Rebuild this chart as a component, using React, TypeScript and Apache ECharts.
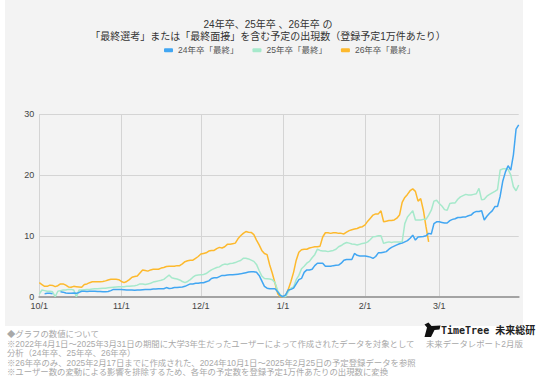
import React, { useEffect, useRef } from "react";
import * as echarts from "echarts";

const MONTHS = [10, 11, 12, 1, 2, 3];
const DAYS_IN_MONTH = [31, 30, 31, 31, 28, 31];
const categories: string[] = [];
MONTHS.forEach((m, i) => {
  for (let d = 1; d <= DAYS_IN_MONTH[i]; d++) categories.push(`${m}/${d}`);
});

const seriesNames = ["24年卒「最終」", "25年卒「最終」", "26年卒「最終」"];
const seriesColors = ["#41a6f2", "#a6e9cb", "#fdb92d"];
const yTicks = [0, 10, 20, 30];

const s24: (number | null)[] = [
  // Oct
  null, null, 0.5, 0.55, 0.55, 0.5, null, null, 0.8, 0.75, 0.6, 0.55, 0.55, 0.6, 0.55, 0.7, 0.9, 0.9, 0.85, 0.9,
  0.9, 0.9, 0.85, 0.85, 0.8, 0.8, 0.85, 1.0, 1.2, 1.2, 1.2,
  // Nov
  1.2, 1.15, 1.1, 1.1, 1.1, 1.05, 1.1, 1.1, 1.15, 1.2, 1.2, 1.2, 1.25, 1.25, 1.3, 1.3, 1.3, 1.5, 1.35, 1.4,
  1.5, 1.5, 1.55, 1.6, 1.7, 1.9, 2.1, 2.1, 2.2, 2.2,
  // Dec
  2.3, 2.3, 2.45, 2.6, 3.0, 3.1, 3.1, 3.3, 3.5, 3.5, 3.55, 3.6, 3.6, 3.65, 3.7, 3.75, 3.85, 3.95, 4.05, 4.1,
  4.1, 4.0, 3.5, 2.6, 1.7, 1.4, 1.3, 1.3, 1.3, 0.8, 0.2,
  // Jan
  0, 0.3, 1.1, 1.2, 1.4, 2.1, 2.8, 3.0, 4.0, 4.4, 4.4, 4.5, 5.1, 5.5, 5.5, 5.5, 5.0, 5.0, 5.0, 5.1,
  5.15, 5.2, 5.5, 6.0, 6.1, 6.1, 6.1, 7.1, 6.8, 6.7, 6.7,
  // Feb
  6.7, 6.6, 6.5, 6.3, 6.6, 7.2, 7.2, 7.3, 7.4, 7.8, 8.1, 8.3, 8.5, 8.7, 8.8, 9.0, 9.2, 9.6, 10.1, 9.3,
  9.8, 9.85, 9.9, 10.0, 10.4, 10.3, 12.0, 12.3,
  // Mar
  12.3, 12.2, 12.1, 12.1, 12.5, 12.7, 12.8, 13.0, 13.0, 13.1, 13.1, 13.3, 13.4, 13.8, 14.0, 14.0, 14.1, 12.6, 13.2, 13.7,
  14.1, 14.8, 14.8, 16.5, 19.0, 20.5, 21.5, 20.8, 23.3, 27.5, 28.2,
];

const s25: (number | null)[] = [
  // Oct
  0.45, 1.1, 1.0, 0.9, 0.9, 0.8, 0, 0.9, 1.0, 1.1, 1.1, 1.2, 1.2, 1.1, 0, 1.1, 1.1, 1.15, 1.2, 1.2,
  1.25, 1.3, 1.3, 1.35, 1.4, 1.4, 1.45, 1.5, 1.55, 1.6, 1.65,
  // Nov
  1.65, 1.65, 1.7, 1.7, 1.75, 1.8, 1.9, 2.1, 2.1, 2.0, 2.1, 2.2, 2.4, 2.5, 2.6, 2.7, 2.85, 3.2, 3.55, 3.1,
  3.0, 2.9, 2.75, 2.5, 2.3, 2.5, 2.8, 3.2, 3.5, 3.55,
  // Dec
  3.6, 3.65, 3.8, 4.1, 4.4, 4.6, 4.8, 4.9, 5.2, 5.35, 5.3, 5.45, 5.5, 5.6, 5.8, 5.95, 6.3, 6.3, 6.2, 6.0,
  5.8, 5.3, 4.3, 3.4, 3.0, 2.95, 2.9, 2.8, 2.3, 1.0, 0.3,
  // Jan
  0, 0, 0.8, 1.4, 1.6, 2.8, 3.5, 4.6, 5.0, 5.5, 5.8, 6.4, 6.9, 7.8, 7.6, 7.5, 7.5, 7.4, 7.5, 7.6,
  7.8, 8.2, 8.4, 8.7, 8.9, 8.8, 8.65, 8.6, 8.5, 8.6, 8.75,
  // Feb
  8.8, 9.0, 9.4, 9.85, 9.9, 10.0, 10.0, 8.75, 8.9, 9.0, 8.9, 9.0, 9.0, 9.0, 9.0, 12.0, 13.1, 13.6, 14.1, 12.6,
  12.6, 12.6, 12.7, 12.7, 13.4, 14.2, 15.7, 15.85,
  // Mar
  15.3, 14.9, 14.3, 14.2, 15.3, 15.4, 15.4, 16.0, 16.4, 16.6, 16.8, 16.7, 16.7, 16.8, 16.9, 17.8, 15.9, 16.0, 16.5, 16.8,
  17.05, 17.3, 17.6, 20.8, 21.0, 21.0, 20.9, 20.0, 18.05, 17.4, 18.35,
];

const s26: (number | null)[] = [
  // Oct
  2.3, 2.0, 1.7, 1.7, 1.9, 1.85, 1.65, 1.8, 2.1, 2.1, 1.9, 1.6, 1.55, 1.7, 1.65, 1.6, 1.55, 2.0, 2.1, 2.3,
  2.45, 2.45, 2.45, 2.45, 2.5, 2.6, 2.75, 2.85, 2.85, 2.85, 2.8,
  // Nov
  2.5, 2.3, 2.5, 2.8, 3.2, 3.3, 3.4, 3.9, 4.4, 4.3, 4.2, 4.4, 4.5, 4.5, 4.5, 4.7, 4.8, 4.95, 5.0, 5.0,
  5.0, 5.1, 5.1, 5.4, 5.75, 5.9, 6.0, 6.0, 6.3, 6.6,
  // Dec
  7.0, 7.1, 7.2, 7.5, 7.6, 7.6, 7.9, 8.1, 8.0, 8.2, 8.6, 8.6, 8.7, 8.8, 9.5, 10.0, 10.4, 10.7, 10.6, 10.55,
  10.2, 9.3, 8.5, 7.6, 7.1, 6.9, 5.2, 3.8, 2.2, 0.5, 0,
  // Jan
  0, 0.2, 1.2, 2.5, 4.0, 6.0, 7.3, 7.7, 7.8, 7.8, 8.0, 8.1, 8.2, 8.2, 8.3, 9.8, 10.5, 10.5, 10.4, 10.5,
  10.5, 10.4, 10.4, 10.3, 10.6, 10.85, 11.0, 11.1, 11.2, 11.4, 11.5,
  // Feb (until 2/25)
  11.8, 12.4, 12.9, 13.4, 13.6, 13.6, 14.1, 12.3, 12.4, 12.5, 12.5, 12.6, 12.9, 13.4, 15.5, 16.3, 16.8, 17.4, 17.7, 17.3,
  15.7, 16.1, 14.2, 11.5, 9.0,
];

const titleText =
  "24年卒、25年卒 、26年卒 の\n「最終選考」または「最終面接」を含む予定の出現数（登録予定1万件あたり）";
const footerLines = [
  "◆グラフの数値について",
  "※2022年4月1日～2025年3月31日の期間に大学3年生だったユーザーによって作成されたデータを対象として",
  "分析（24年卒、25年卒、26年卒）",
  "※26年卒のみ、2025年2月17日までに作成された、2024年10月1日～2025年2月25日の予定登録データを参照",
  "※ユーザー数の変動による影響を排除するため、各年の予定数を登録予定1万件あたりの出現数に変換",
];
const logoText = "TimeTree 未来総研";
const subLogoText = "未来データレポート2月版";

const FONT = "'Liberation Sans', 'Noto Sans CJK JP', sans-serif";

const isMonthStart = (_i: number, v: string) => /\/1$/.test(v);

export default function App() {
  const ref = useRef<HTMLDivElement>(null);
  useEffect(() => {
    if (!ref.current) return;
    const chart = echarts.init(ref.current, undefined, { renderer: "svg" });
    const footerY = [335, 345, 354, 363.5, 373];
    chart.setOption({
      animation: false,
      textStyle: { fontFamily: FONT },
      title: {
        text: titleText,
        left: "center",
        top: 14,
        textStyle: {
          fontSize: 10,
          fontWeight: "normal",
          color: "#333",
          lineHeight: 11.5,
          fontFamily: FONT,
        },
      },
      legend: {
        top: 41,
        left: 159,
        itemWidth: 9,
        itemHeight: 4,
        itemGap: 14,
        icon: "roundRect",
        textStyle: { fontSize: 8.5, color: "#555", fontFamily: FONT },
        data: seriesNames,
      },
      grid: { left: 39.3, right: 17.3, top: 114, bottom: 86.3, containLabel: false },
      xAxis: {
        type: "category",
        data: categories,
        boundaryGap: false,
        axisLine: { show: true, lineStyle: { color: "#a3a3a3", width: 2 } },
        axisTick: { show: false },
        axisLabel: {
          interval: isMonthStart,
          fontSize: 9,
          color: "#444",
          margin: 5,
          fontFamily: FONT,
        },
        splitLine: { show: true, interval: isMonthStart, lineStyle: { color: "#d4d4d4", width: 1 } },
      },
      yAxis: {
        type: "value",
        min: yTicks[0],
        max: yTicks[yTicks.length - 1],
        interval: 10,
        axisLine: { show: false },
        axisTick: { show: false },
        axisLabel: { fontSize: 9, color: "#444", margin: 5, fontFamily: FONT },
        splitLine: { lineStyle: { color: "#d4d4d4", width: 1 } },
      },
      series: [s24, s25, s26].map((d, i) => ({
        name: seriesNames[i],
        type: "line",
        data: d,
        showSymbol: false,
        symbol: "none",
        connectNulls: false,
        color: seriesColors[i],
        lineStyle: { width: 1.5, color: seriesColors[i] },
        z: 3 - i + 2,
      })),
      graphic: [
        ...footerLines.map((t, i) => ({
          type: "text",
          left: 7,
          top: footerY[i] - 5,
          style: {
            text: t,
            fontSize: 8.4,
            fill: "#a8a8a8",
            fontFamily: FONT,
          },
        })),
        {
          type: "polygon",
          shape: {
            points: [
              [424.5, 337],
              [427, 327.5],
              [424.5, 324.5],
              [428.5, 322.5],
              [431.5, 326],
              [440.5, 325.5],
              [439.5, 329.5],
              [434.5, 330],
              [431, 337],
            ],
          },
          style: { fill: "#111" },
        },
        {
          type: "text",
          left: 441,
          top: 325.5,
          style: {
            text: logoText,
            fontSize: 10,
            fontWeight: "bold",
            fill: "#222",
            fontFamily: "'DejaVu Sans Mono', 'Noto Sans CJK JP', monospace",
          },
        },
        {
          type: "text",
          left: 426,
          top: 340,
          style: {
            text: subLogoText,
            fontSize: 8.4,
            fill: "#a8a8a8",
            fontFamily: FONT,
          },
        },
      ],
    });
    return () => chart.dispose();
  }, []);
  return (
    <div style={{ position: "absolute", left: 0, top: 0, width: 536, height: 383, background: "#fff" }}>
      <div
        style={{ position: "absolute", left: 5, top: 0, width: 518, height: 326, background: "#f3f3f3" }}
      />
      <div ref={ref} style={{ position: "absolute", left: 0, top: 0, width: 536, height: 383 }} />
    </div>
  );
}
